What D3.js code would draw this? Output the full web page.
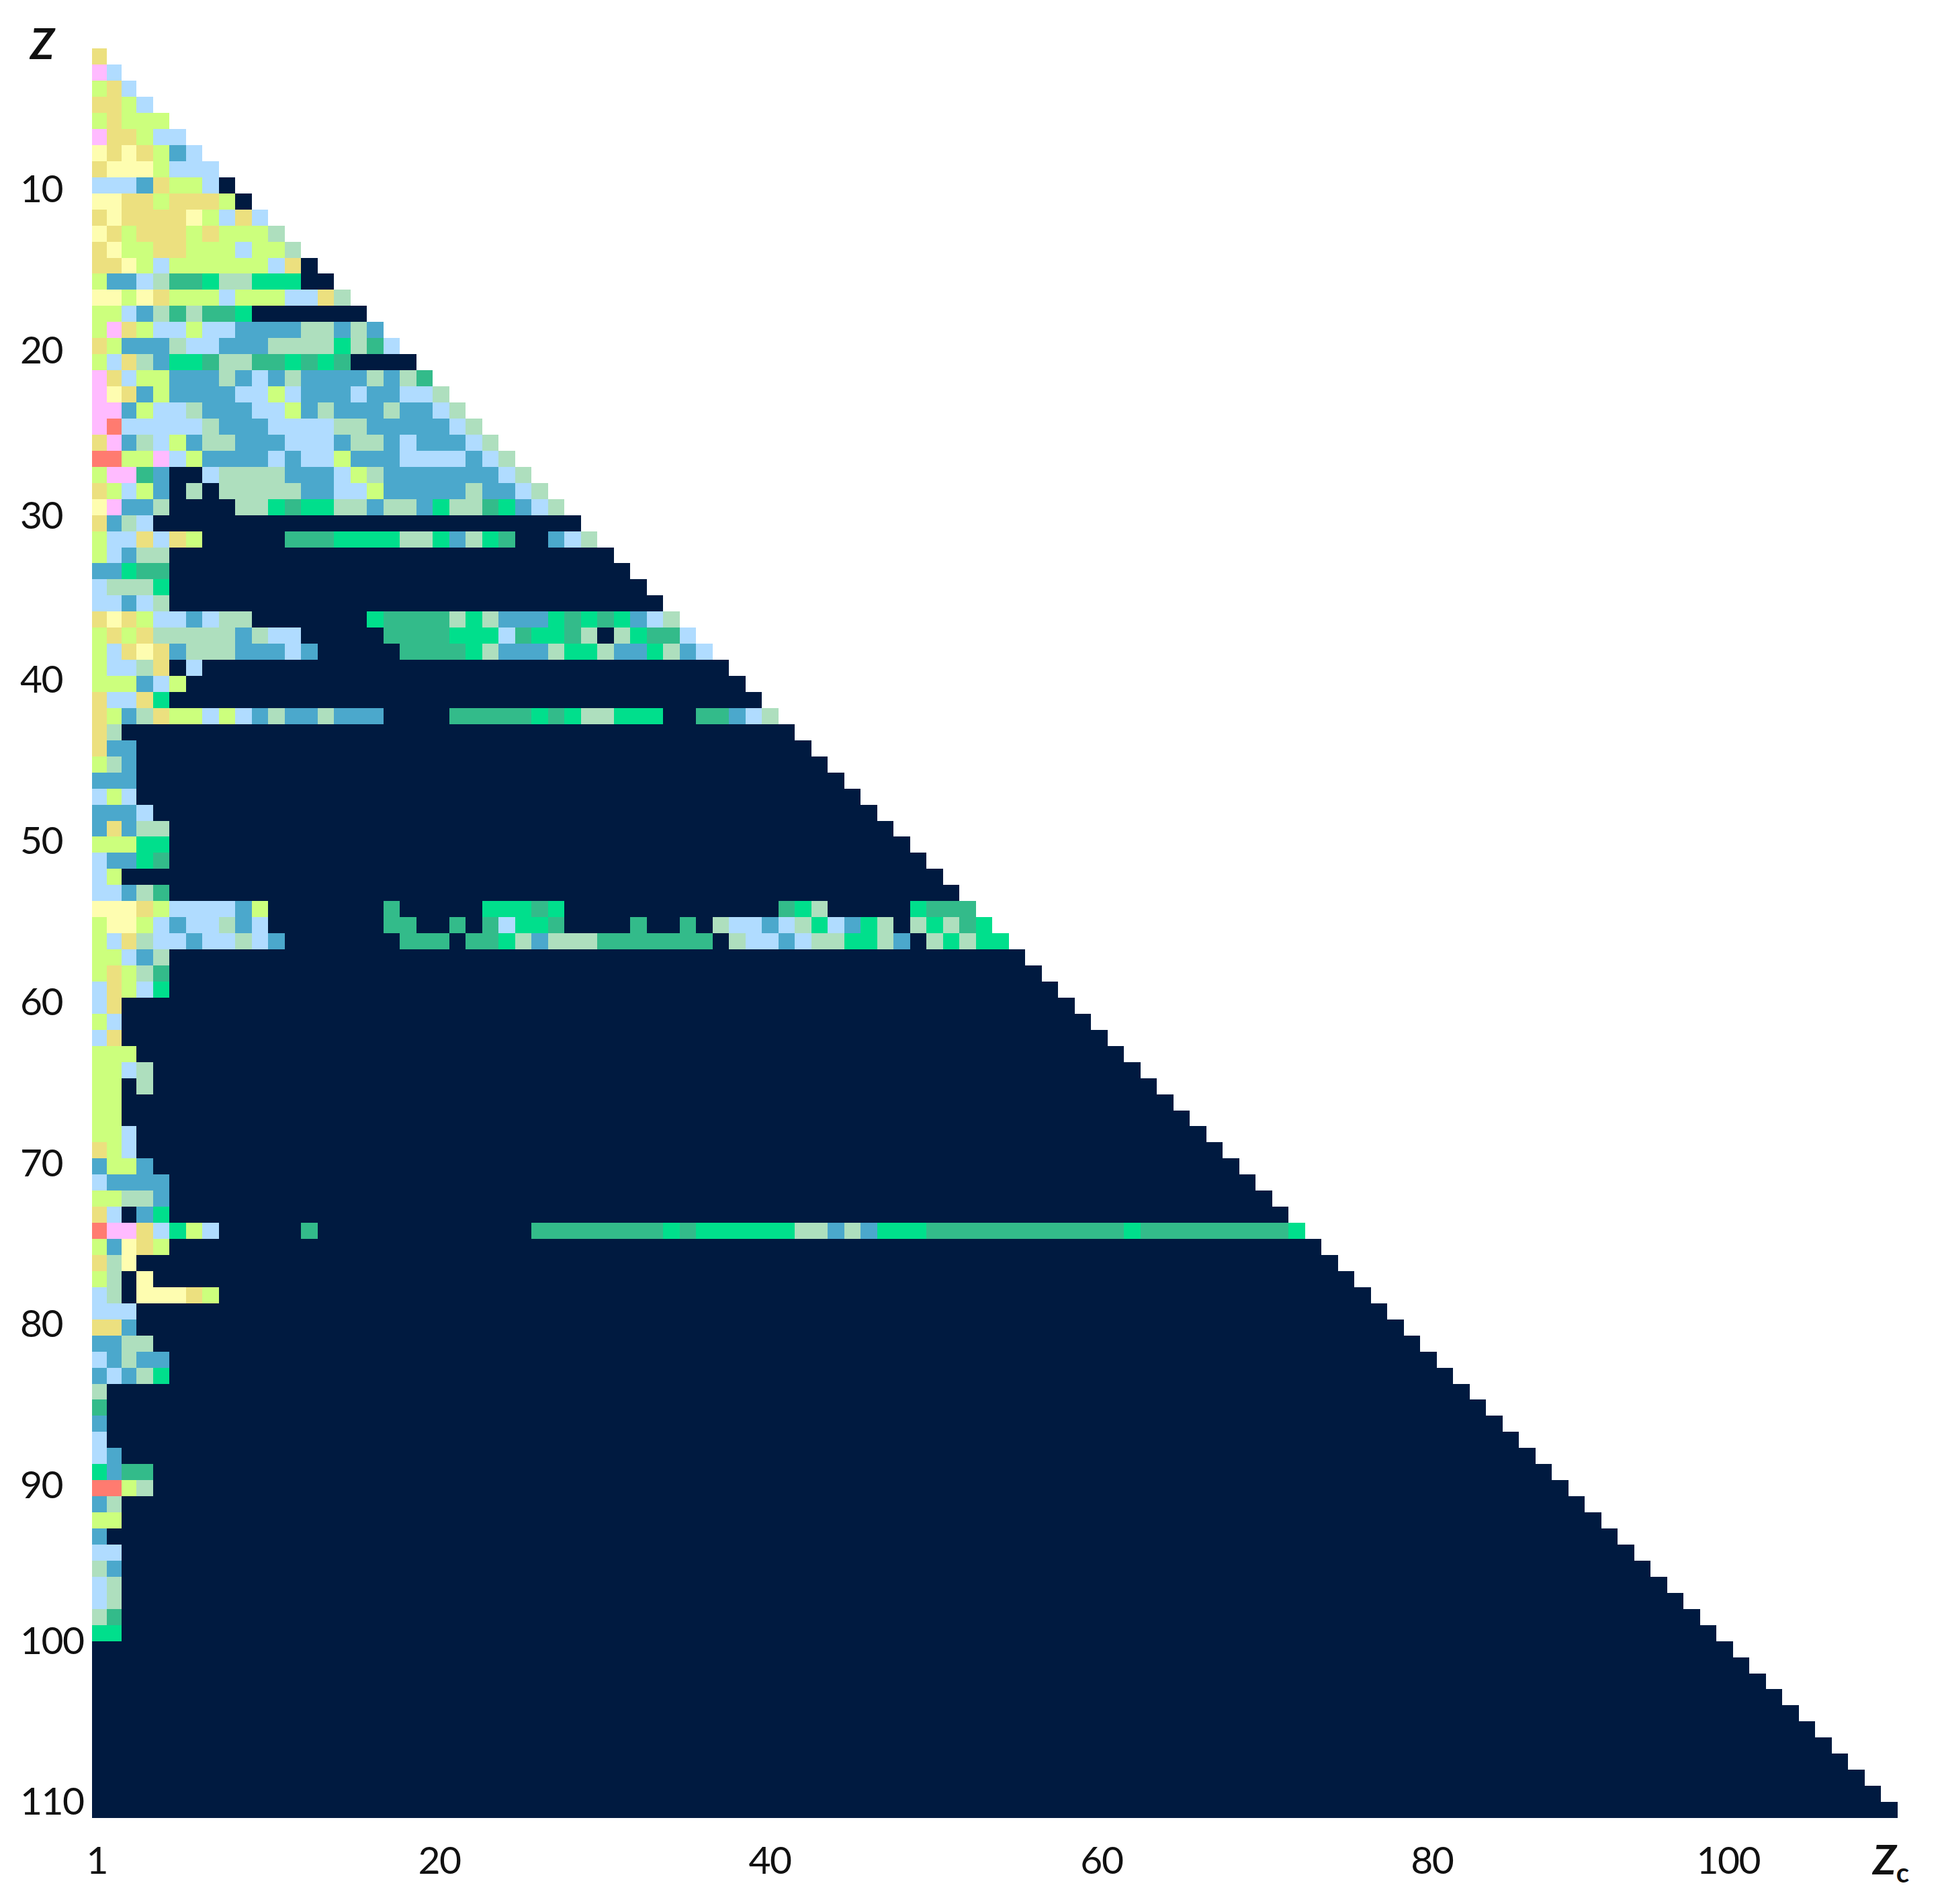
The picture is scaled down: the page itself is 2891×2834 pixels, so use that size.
<!DOCTYPE html>
<html>
<head>
<meta charset="utf-8">
<script src="https://cdn.jsdelivr.net/npm/d3@7"></script>
<style>
body { margin: 0; background: #fff; }
text { font-family: Lato, "Open Sans", sans-serif; fill: #111; }
</style>
</head>
<body>
<script>
// one string per row (Z = 1, 2, 3 ...), one letter per cell (Zc = 1, 2, 3 ...)
// cells missing at the end of a string are class "d"
const rows = [
  "e", "pl", "gel", "eegl", "geggg", "peegll", "yeyegbl", "eyyyglll", "lllbeggld", "yyeegeeegd",
  "eyeeeeyglel", "yegeeegegggm", "eyggeeggglggm", "eeyglggggggled", "gbblmttnmmnnndd",
  "yygyeggglgggllem", "gglbmtmttn", "gpegllgllbbbbmmbmb", "egbbbmllbbbmmmmnmtl", "glembnntmmttntnt",
  "pelggbbbmblbmbbbbmbmt", "pyebgbbbbllglbbblbbllm", "ppbgllmbbbllgbmbbbmbblm", "prlllllmbbbllllmmbbbbblm",
  "epbmlgbmmbbblllbmmblbbblm", "rrggplgbbbblbllgbbbllllblm", "gpptbddlmmmmbbblgmbbbbbbblm",
  "eglgbdmdmmmmmbbllgbbbbbmbblm", "ypbbmddddmmntnnmmbmmbnmmtnblm", "ebml",
  "gllelegdddddtttnnnnmmnbmntddblm", "glbmm", "bbntt", "lmmmn", "llblm",
  "eyegllblmmdddddddnttttmnmbbbntntnblm",
  "gegemmmmmbmlldddddttttnnnltnntmdmnttl",
  "gleyebmmmbbblbdddddttttnmbbbmnnmbbnmbl",
  "gllmedl", "gggblg", "ellen",
  "egbmegglglbmbbmbbbddddtttttntnmmnnnddttblm",
  "em", "ebb", "gmb", "bbb", "lgl", "bbbl", "bebmm", "gggnn", "lbbnt", "lg", "llbmt",
  "yyyegllllbgdddddddtdddddnnntndddddddddddddtnmdddddnttt",
  "gyyglbllmbldddddddttddtdtlnntddddtddtdmllblmnlbnmdmnmtn",
  "glemllbllmlbdddddddtttdttnmbmmmtttttttdmllblmmnnmbdmnmnn",
  "gglbm", "gegmt", "legln", "le", "gl", "le", "ggg", "gglm", "ggdm", "gg", "gg", "ggl", "egl",
  "bggb", "lbbbb", "ggmmb", "eldbn",
  "rppelngldddddtdddddddddddddttttttttntnnnnnnmmbmbnnnttttttttttttntttttttttn",
  "gbyeg", "emy", "gmdy", "lmdyyyeg", "lll", "eeb", "bbmm", "lbmbb", "blbmn",
  "m", "t", "b", "l", "lb", "nbtt", "rrgm", "bm", "gg", "b", "ll", "mb", "lm", "lm", "mt", "nn"
];
const rowCount = 110;

const classes = ["y", "e", "g", "p", "r", "l", "b", "m", "t", "n", "d"];
const classColors = ["#fefdb0", "#ece07f", "#ccff7d", "#ffbbff", "#ff7b70", "#b0dcff", "#4ba8cc", "#aedfbe", "#33bb8a", "#00df8c", "#001a40"];

const zTicks = [10, 20, 30, 40, 50, 60, 70, 80, 90, 100, 110];
const zcTicks = [1, 20, 40, 60, 80, 100];

var svg = d3.select("body").append("svg")
  .attr("width", 2891)
  .attr("height", 2834);

// the first columns of the source picture are a bit narrower, hence three stops
var x = d3.scaleLinear().domain([1, 4, 111]).range([136.7, 203.3, 2824.5]);
var y = d3.scaleLinear().domain([1, 111]).range([72.3, 2706]);
var color = d3.scaleOrdinal().domain(classes).range(classColors);

// flatten rows into cells
var cells = [];
for (let z = 1; z <= rowCount; z++) {
  let row = rows[z - 1] || "";
  for (let c = 1; c <= z; c++) {
    cells.push({ z: z, c: c, cls: row[c - 1] || "d" });
  }
}

svg.append("g")
  .selectAll("rect")
  .data(cells)
  .join("rect")
  .attr("x", d => x(d.c))
  .attr("y", d => y(d.z))
  .attr("width", d => x(d.c + 1) - x(d.c))
  .attr("height", d => y(d.z + 1) - y(d.z))
  .attr("fill", d => color(d.cls))
  .attr("shape-rendering", "crispEdges");

// axes, labels in the source sit off the cell centres by hand
var zLabelShift = { 10: -20, 20: -19, 30: -13, 40: -8, 50: -7, 60: -7, 70: -6, 80: -7, 90: -6, 100: -14, 110: -14 };
var zcLabelShift = { 1: -4, 20: 46, 40: 48, 60: 52, 80: 54, 100: 5 };

var yCenter = y.copy().domain([0.5, 110.5]);
var xCenter = x.copy().domain([0.5, 3.5, 110.5]);

var yAxis = svg.append("g")
  .call(d3.axisLeft(yCenter).tickValues(zTicks).tickSize(0).tickPadding(0));
yAxis.select(".domain").remove();
yAxis.selectAll("text")
  .attr("x", 30)
  .attr("dy", "0.36em")
  .attr("text-anchor", "start")
  .attr("font-size", 57)
  .attr("letter-spacing", -1.5)
  .attr("transform", d => "translate(0," + zLabelShift[d] + ")")
  .style("font-family", "Lato");

var xAxis = svg.append("g")
  .attr("transform", "translate(0,2768)")
  .call(d3.axisBottom(xCenter).tickValues(zcTicks).tickSize(0).tickPadding(0));
xAxis.select(".domain").remove();
xAxis.selectAll("text")
  .attr("y", 0)
  .attr("dy", "0.36em")
  .attr("font-size", 57)
  .attr("letter-spacing", -1.5)
  .attr("transform", d => "translate(" + zcLabelShift[d] + ",0)")
  .style("font-family", "Lato");

svg.append("text")
  .attr("x", 63)
  .attr("y", 88)
  .attr("text-anchor", "middle")
  .attr("font-size", 64)
  .attr("font-weight", 700)
  .attr("font-style", "italic")
  .text("Z");

var zc = svg.append("text")
  .attr("x", 2788)
  .attr("y", 2790)
  .attr("font-size", 62)
  .attr("font-weight", 700)
  .attr("font-style", "italic");
zc.append("tspan").text("Z");
zc.append("tspan").attr("font-size", 40).attr("font-style", "normal").attr("dy", 12).text("c");
</script>
</body>
</html>
